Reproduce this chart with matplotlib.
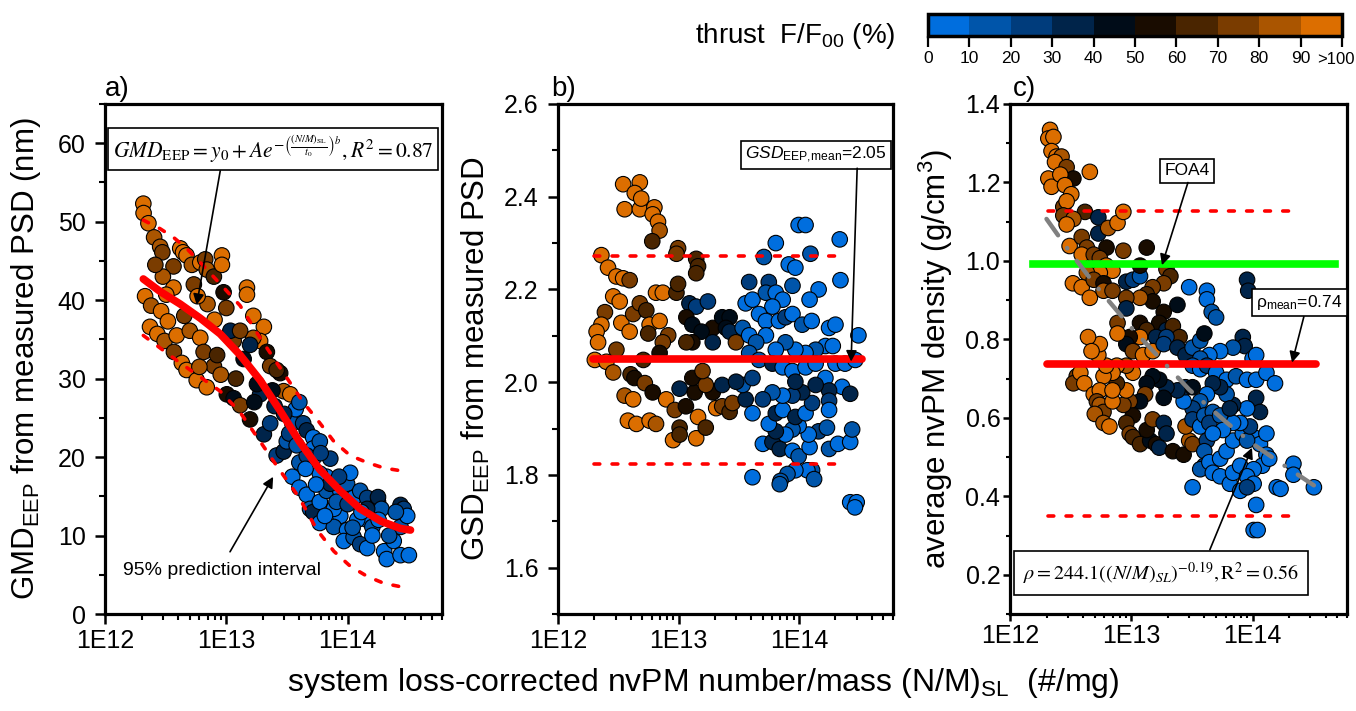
import numpy as np
import matplotlib
matplotlib.use("Agg")
import matplotlib.pyplot as plt
from matplotlib.colors import ListedColormap, BoundaryNorm
from matplotlib.cm import ScalarMappable
from matplotlib.ticker import LogLocator, FixedLocator, FixedFormatter, MultipleLocator

plt.rcParams['font.family'] = ['Liberation Sans', 'DejaVu Sans']
plt.rcParams['mathtext.fontset'] = 'custom'
plt.rcParams['mathtext.rm'] = 'Liberation Sans'
plt.rcParams['mathtext.it'] = 'Liberation Sans:italic'
plt.rcParams['mathtext.bf'] = 'Liberation Sans:bold'

# thrust classes (F/F00 in %) and their colours
thrust_edges = [0, 10, 20, 30, 40, 50, 60, 70, 80, 90, 100]
thrust_labels = ['0', '10', '20', '30', '40', '50', '60', '70', '80', '90', '>100']
thrust_colors = ['#006EDE', '#0055AA', '#003C7C', '#00244A', '#000C18',
                 '#190C00', '#4A2500', '#7A3C00', '#AA5500', '#DC6E00']

# ---- panel a: GMD (nm) vs (N/M)SL, x in units of 1E12 #/mg
gmd_x = [2.07, 2.08, 2.28, 2.54, 2.85, 2.97, 3.67, 4.17, 4.4, 4.7, 5.2, 6.1, 6.7, 6.9, 7.9,
         9.2, 9.2, 9.5, 5.4, 3.67, 3.2, 2.14, 2.4, 2.9, 3.3, 2.35, 2.7, 3.1, 3.9, 3.7,
         4.3, 4.7, 5.7, 6.9, 5.0, 6.1, 6.5, 7.9, 8.4, 11.5, 10.8, 14.8, 14.8, 16.7, 20.4,
         19.0, 16.7, 13.0, 13.9, 15.7, 21.6, 23.0, 27.8, 26.0, 29.7, 33.7, 10.1, 11.5, 13.0, 15.7,
         20.4, 23.0, 19.0, 17.9, 26.0, 29.7, 31.5, 35.0, 37.3, 40.0, 43.0, 46.0, 52.0, 52.0, 59.0,
         72.0, 35.0, 40.0, 46.0, 49.0, 52.0, 59.0, 59.0, 67.0, 77.0, 87.0, 99.0, 105.0, 112.0, 127.0,
         145.0, 178.0, 178.0, 190.0, 145.0, 87.0, 77.0, 99.0, 93.0, 112.0, 127.0, 145.0, 200.0, 210.0, 240.0,
         273.0, 273.0, 290.0, 310.0, 273.0, 320.0, 145.0, 160.0, 120.0, 67.0, 77.0, 81.0, 59.0, 72.0, 52.0,
         40.0, 46.0, 8.0, 7.0, 5.8, 10.0, 12.0, 9.0, 17.0, 25.0, 30.0, 33.0, 24.0, 6.0, 4.5,
         3.0, 2.6, 38.0, 60.0, 85.0, 130.0, 100.0, 160.0, 220.0, 45.0, 55.0, 65.0, 110.0, 180.0, 250.0]
gmd_nm = [52.3, 51.1, 49.8, 48.0, 46.8, 46.1, 44.3, 46.6, 46.1, 45.7, 44.5, 44.8, 45.2, 43.9, 43.0,
          45.7, 44.5, 41.0, 42.0, 41.6, 40.7, 40.5, 39.3, 38.6, 37.3, 36.6, 35.7, 34.8, 35.5, 33.4,
          32.0, 31.1, 29.8, 28.9, 36.1, 35.2, 33.4, 31.6, 33.0, 34.8, 36.1, 41.6, 40.7, 38.0, 36.6,
          34.8, 35.2, 36.1, 32.5, 34.3, 33.4, 31.6, 30.7, 31.1, 28.4, 28.0, 28.0, 27.5, 26.6, 24.8,
          22.9, 24.3, 28.0, 29.3, 20.2, 20.7, 22.0, 24.3, 26.1, 27.0, 24.3, 23.4, 22.5, 21.1, 22.0,
          19.8, 17.5, 16.1, 15.2, 13.4, 13.0, 11.6, 14.3, 15.7, 16.6, 15.7, 16.6, 18.0, 14.8, 15.7,
          14.8, 14.3, 14.9, 13.4, 13.4, 12.5, 11.1, 10.7, 9.3, 9.8, 8.9, 8.4, 8.0, 7.0, 9.3,
          11.1, 13.9, 13.4, 12.5, 7.5, 7.5, 12.0, 11.1, 12.0, 17.5, 13.4, 14.3, 17.9, 16.6, 19.8,
          19.3, 20.2, 37.5, 39.5, 40.5, 39.0, 30.0, 30.5, 27.0, 26.5, 25.5, 23.0, 28.5, 31.5, 38.0,
          43.0, 44.5, 21.5, 20.5, 17.5, 13.0, 14.0, 10.0, 10.0, 18.5, 16.5, 12.5, 11.0, 12.0, 13.0]
gmd_thrust = [95, 95, 95, 85, 85, 75, 75, 95, 95, 95, 85, 95, 75, 85, 65,
              95, 95, 55, 75, 95, 95, 95, 85, 95, 95, 95, 95, 85, 95, 75,
              95, 95, 95, 95, 85, 95, 75, 75, 65, 75, 35, 95, 95, 95, 95,
              95, 85, 75, 45, 35, 55, 75, 55, 65, 85, 95, 55, 45, 75, 55,
              35, 25, 35, 45, 25, 35, 15, 15, 5, 15, 25, 35, 5, 5, 15,
              25, 5, 5, 5, 15, 35, 5, 5, 15, 25, 5, 15, 5, 5, 15,
              25, 35, 35, 15, 35, 5, 15, 5, 5, 15, 25, 5, 5, 5, 5,
              15, 35, 25, 5, 5, 5, 5, 15, 5, 5, 5, 15, 5, 35, 5,
              15, 25, 95, 85, 95, 75, 65, 85, 45, 35, 35, 25, 45, 85, 75,
              85, 75, 15, 25, 25, 5, 25, 5, 15, 5, 5, 5, 15, 5, 15]

# fitted curve and 95 % prediction band
gmd_fit_x = [2.07, 2.85, 4.17, 6.1, 8.9, 13.0, 19.0, 27.8, 40.0, 59.0, 87.0, 127.0, 190.0, 273.0, 330.0]
gmd_fit_y = [42.7, 41.1, 39.5, 37.7, 35.7, 33.0, 29.8, 25.9, 22.0, 18.4, 15.7, 13.4, 11.8, 10.9, 10.7]
gmd_upper_x = [2.07, 2.85, 3.67, 4.7, 6.1, 9.5, 13.0, 19.0, 29.7, 43.0, 56.0, 77.0, 105.0, 145.0, 200.0, 290.0]
gmd_upper_y = [50.2, 49.1, 48.0, 46.6, 44.8, 41.6, 39.3, 35.2, 30.7, 27.0, 24.8, 22.0, 20.2, 19.3, 18.6, 18.2]
gmd_lower_x = [2.07, 2.85, 4.17, 6.1, 8.9, 13.0, 19.0, 26.0, 40.0, 56.0, 77.0, 105.0, 145.0, 200.0, 290.0]
gmd_lower_y = [35.5, 33.9, 32.0, 30.2, 28.4, 25.7, 22.0, 18.9, 14.8, 10.7, 8.0, 6.1, 4.8, 3.9, 3.4]

# ---- panel b: GSD vs (N/M)SL
gsd_x = [3.47, 4.77, 4.33, 3.57, 4.77, 4.9, 6.3, 6.1, 6.75, 6.96, 6.05, 9.9, 9.6, 14.0, 14.5,
         14.0, 2.29, 2.6, 3.05, 3.47, 3.93, 2.87, 3.25, 2.45, 2.29, 2.09, 2.15, 2.02, 2.52, 2.87,
         3.05, 3.35, 3.93, 4.2, 4.77, 5.4, 5.75, 6.5, 7.4, 6.96, 5.6, 8.2, 9.6, 9.9, 7.4,
         6.96, 5.1, 4.0, 4.3, 5.25, 3.57, 4.2, 3.8, 4.47, 5.75, 6.5, 6.1, 7.9, 9.3, 9.0,
         10.2, 10.2, 14.0, 14.5, 16.8, 11.5, 13.6, 10.2, 13.0, 19.2, 20.5, 23.0, 26.5, 28.0, 16.8,
         23.0, 15.8, 12.3, 14.0, 17.5, 11.6, 13.0, 19.2, 15.5, 13.0, 11.6, 19.2, 23.0, 26.5, 24.7,
         26.5, 29.9, 34.0, 38.5, 36.0, 38.5, 41.0, 51.0, 64.0, 56.0, 53.0, 64.0, 82.0, 93.0, 99.0,
         113.0, 124.0, 217.0, 220.0, 145.0, 122.0, 88.0, 73.0, 60.0, 46.5, 53.0, 68.0, 77.0, 88.0, 106.0,
         127.0, 177.0, 200.0, 310.0, 165.0, 190.0, 137.0, 113.0, 93.0, 77.0, 64.0, 53.0, 44.0, 38.5, 46.5,
         60.0, 73.0, 88.0, 113.0, 137.0, 200.0, 240.0, 292.0, 165.0, 227.0, 265.0, 177.0, 177.0, 177.0, 145.0,
         170.0, 177.0, 210.0, 265.0, 275.0, 265.0, 300.0, 290.0, 128.0, 117.0, 133.0, 93.0, 80.0, 70.0, 69.0,
         41.0, 50.0, 60.0, 69.0, 88.0, 99.0, 122.0, 120.0, 99.0, 88.0, 77.0, 64.0, 56.0, 64.0, 73.0,
         93.0, 113.0, 128.0, 106.0, 88.0, 73.0, 60.0, 50.0, 41.0, 36.0, 34.0, 41.0, 30.0, 93.0, 137.0]
gsd = [2.427, 2.431, 2.408, 2.373, 2.373, 2.396, 2.377, 2.362, 2.346, 2.327, 2.304, 2.289, 2.277, 2.266, 2.25,
       2.235, 2.274, 2.247, 2.228, 2.224, 2.22, 2.185, 2.174, 2.151, 2.124, 2.109, 2.086, 2.048, 2.044, 2.021,
       2.07, 2.128, 2.109, 2.147, 2.17, 2.155, 2.124, 2.193, 2.193, 2.132, 2.105, 2.101, 2.193, 2.212, 2.086,
       2.063, 2.048, 2.017, 2.009, 1.998, 1.971, 1.963, 1.917, 1.91, 1.917, 1.91, 1.978, 1.963, 1.94, 1.875,
       1.902, 1.887, 1.879, 1.925, 1.902, 1.948, 1.978, 1.986, 2.009, 1.978, 1.944, 1.948, 1.936, 1.955, 1.994,
       1.994, 2.024, 2.17, 2.163, 2.174, 2.14, 2.124, 2.117, 2.109, 2.086, 2.086, 2.086, 2.14, 2.14, 2.117,
       2.109, 2.086, 2.117, 2.101, 2.17, 2.216, 2.178, 2.27, 2.30, 2.216, 2.193, 2.193, 2.254, 2.247, 2.339,
       2.339, 2.277, 2.308, 2.22, 2.20, 2.178, 2.208, 2.178, 2.163, 2.147, 2.132, 2.132, 2.14, 2.147, 2.124,
       2.132, 2.117, 2.124, 2.101, 2.078, 2.078, 2.07, 2.063, 2.07, 2.086, 2.07, 2.101, 2.086, 2.063, 2.048,
       2.04, 2.032, 2.024, 2.032, 2.04, 2.04, 2.04, 2.048, 2.009, 1.99, 1.975, 1.982, 1.96, 1.94, 1.894,
       1.902, 1.856, 1.867, 1.871, 1.898, 1.741, 1.741, 1.73, 1.81, 1.81, 1.791, 1.81, 1.802, 1.787, 1.78,
       1.795, 1.867, 1.871, 1.856, 1.852, 1.84, 1.86, 1.887, 1.906, 1.898, 1.887, 1.894, 1.91, 1.933, 1.94,
       1.925, 1.933, 1.955, 1.978, 1.971, 1.971, 1.978, 1.963, 1.933, 1.963, 1.994, 2.009, 2.001, 2.001, 1.994]
gsd_thrust = [95, 95, 95, 95, 95, 95, 95, 95, 95, 85, 65, 75, 75, 65, 65,
              65, 95, 95, 95, 95, 75, 95, 95, 75, 95, 95, 95, 95, 95, 85,
              75, 95, 95, 75, 75, 65, 95, 95, 95, 95, 65, 75, 65, 65, 75,
              55, 65, 65, 55, 75, 85, 95, 95, 95, 95, 85, 55, 95, 75, 95,
              65, 65, 95, 95, 65, 55, 55, 35, 55, 55, 95, 75, 65, 75, 75,
              35, 75, 35, 25, 25, 55, 45, 55, 45, 55, 65, 35, 45, 45, 45,
              35, 75, 15, 5, 5, 25, 5, 15, 5, 25, 15, 5, 5, 5, 5,
              5, 15, 5, 5, 5, 5, 15, 5, 5, 5, 5, 5, 25, 5, 15,
              5, 5, 5, 5, 5, 5, 15, 5, 5, 15, 5, 5, 15, 15, 15,
              35, 5, 5, 5, 5, 5, 5, 5, 5, 5, 35, 35, 25, 5, 25,
              15, 15, 5, 5, 15, 5, 5, 5, 15, 5, 15, 5, 15, 15, 15,
              5, 5, 35, 35, 5, 15, 5, 5, 5, 15, 5, 35, 5, 35, 5,
              35, 5, 25, 35, 25, 5, 15, 25, 5, 35, 15, 25, 35, 35, 35]
gsd_mean = 2.05
gsd_band = [1.824, 2.272]

# ---- panel c: effective density (g/cm3) vs (N/M)SL
rho_x = [2.14, 2.07, 2.28, 2.2, 2.42, 2.66, 2.35, 2.93, 3.33, 4.55, 2.07, 2.2, 2.6, 2.84, 3.2,
         2.75, 2.93, 2.75, 4.15, 3.33, 2.93, 5.35, 5.35, 6.45, 7.7, 8.6, 6.25, 8.6, 13.4, 3.1,
         3.9, 4.3, 3.9, 4.9, 5.5, 6.2, 7.0, 5.5, 4.3, 3.3, 3.9, 4.9, 5.9, 4.55, 5.9,
         7.0, 9.1, 10.3, 11.8, 11.8, 19.5, 21.0, 18.5, 15.0, 13.4, 15.0, 11.8, 9.1, 9.1, 7.7,
         11.8, 18.5, 17.0, 24.0, 13.4, 11.8, 19.5, 22.0, 25.0, 16.0, 19.5, 9.7, 9.1, 7.7, 10.3,
         12.5, 15.0, 18.5, 24.0, 28.0, 32.0, 37.0, 40.0, 42.0, 42.0, 46.0, 50.0, 30.0, 90.0, 92.0,
         83.0, 86.0, 69.0, 54.0, 44.0, 37.0, 32.0, 37.0, 42.0, 50.0, 61.0, 73.0, 90.0, 107.0, 100.0,
         107.0, 130.0, 153.0, 107.0, 115.0, 90.0, 69.0, 61.0, 54.0, 47.0, 42.0, 37.0, 32.0, 27.0, 28.0,
         32.0, 24.0, 19.5, 18.5, 17.0, 15.0, 13.4, 13.0, 11.8, 9.7, 10.3, 8.6, 9.1, 7.6, 10.3,
         9.1, 7.6, 7.0, 5.9, 6.2, 5.35, 5.5, 4.4, 4.7, 3.55, 3.33, 3.8, 4.1, 4.9, 5.5,
         5.2, 5.5, 5.9, 5.0, 5.9, 6.6, 7.0, 7.0, 9.1, 9.7, 10.3, 11.8, 14.3, 16.0, 17.0,
         13.4, 15.0, 18.5, 19.5, 22.0, 27.0, 30.0, 28.0, 32.0, 32.0, 37.0, 40.0, 47.0, 44.0, 42.0,
         40.0, 40.0, 37.0, 44.0, 47.0, 54.0, 65.0, 69.0, 79.0, 54.0, 61.0, 69.0, 83.0, 102.0, 115.0,
         130.0, 130.0, 120.0, 102.0, 90.0, 102.0, 79.0, 90.0, 107.0, 102.0, 110.0, 32.0, 158.0, 170.0, 217.0,
         217.0, 320.0, 137.0, 90.0, 95.0, 79.0, 69.0, 54.0, 57.0, 47.0, 65.0]
rho = [1.334, 1.312, 1.316, 1.28, 1.266, 1.266, 1.252, 1.239, 1.21, 1.227, 1.21, 1.189, 1.22, 1.193, 1.17,
       1.138, 1.152, 1.116, 1.125, 1.107, 1.093, 1.111, 1.07, 1.084, 1.097, 1.125, 1.034, 1.026, 1.034, 1.038,
       1.061, 1.034, 1.016, 1.016, 1.007, 0.988, 0.975, 0.97, 0.97, 0.943, 0.933, 0.952, 0.943, 0.906, 0.924,
       0.924, 0.947, 0.952, 0.961, 0.988, 0.979, 0.961, 0.943, 0.933, 0.915, 0.897, 0.906, 0.906, 0.879, 0.842,
       0.842, 0.87, 0.842, 0.888, 0.824, 0.806, 0.824, 0.834, 0.806, 0.806, 0.806, 0.806, 0.788, 0.815, 0.77,
       0.76, 0.77, 0.788, 0.779, 0.76, 0.779, 0.797, 0.815, 0.924, 0.902, 0.87, 0.856, 0.933, 0.952, 0.924,
       0.806, 0.783, 0.779, 0.77, 0.76, 0.751, 0.733, 0.724, 0.733, 0.715, 0.697, 0.706, 0.697, 0.697, 0.751,
       0.76, 0.715, 0.688, 0.651, 0.615, 0.624, 0.633, 0.66, 0.678, 0.688, 0.66, 0.642, 0.624, 0.642, 0.678,
       0.678, 0.67, 0.678, 0.651, 0.697, 0.706, 0.688, 0.66, 0.642, 0.642, 0.606, 0.633, 0.67, 0.688, 0.715,
       0.733, 0.733, 0.715, 0.706, 0.733, 0.76, 0.788, 0.806, 0.77, 0.706, 0.688, 0.715, 0.688, 0.66, 0.67,
       0.642, 0.633, 0.615, 0.61, 0.587, 0.578, 0.642, 0.67, 0.587, 0.56, 0.551, 0.533, 0.542, 0.533, 0.524,
       0.569, 0.596, 0.587, 0.56, 0.515, 0.506, 0.542, 0.578, 0.533, 0.596, 0.578, 0.606, 0.615, 0.587, 0.542,
       0.515, 0.478, 0.469, 0.487, 0.46, 0.451, 0.432, 0.46, 0.478, 0.496, 0.515, 0.542, 0.56, 0.551, 0.533,
       0.56, 0.506, 0.478, 0.469, 0.451, 0.432, 0.414, 0.423, 0.378, 0.314, 0.314, 0.423, 0.423, 0.419, 0.483,
       0.455, 0.423, 0.496, 0.542, 0.578, 0.587, 0.587, 0.606, 0.569, 0.56, 0.624]
rho_thrust = [95, 95, 95, 95, 95, 85, 95, 75, 55, 95, 95, 95, 95, 95, 95,
              75, 95, 75, 65, 85, 95, 35, 35, 85, 95, 95, 55, 75, 55, 95,
              75, 75, 95, 75, 75, 95, 95, 95, 85, 95, 95, 75, 55, 95, 85,
              75, 35, 25, 15, 55, 75, 65, 75, 75, 65, 55, 85, 75, 35, 75,
              55, 55, 55, 45, 65, 95, 35, 65, 65, 35, 25, 55, 45, 95, 75,
              95, 95, 25, 35, 35, 15, 15, 45, 5, 5, 15, 15, 5, 35, 35,
              35, 35, 15, 5, 5, 15, 15, 5, 25, 5, 5, 15, 5, 5, 5,
              5, 5, 5, 35, 35, 5, 35, 15, 35, 35, 5, 15, 25, 5, 35,
              45, 35, 35, 45, 45, 45, 45, 75, 45, 75, 55, 75, 95, 65, 95,
              85, 95, 95, 95, 95, 95, 95, 95, 95, 75, 75, 95, 95, 95, 95,
              75, 85, 75, 85, 85, 95, 95, 95, 65, 75, 65, 65, 45, 55, 35,
              55, 75, 35, 35, 55, 55, 85, 85, 75, 25, 5, 15, 15, 25, 25,
              15, 25, 15, 5, 5, 5, 5, 5, 5, 5, 5, 5, 5, 5, 5,
              5, 5, 5, 5, 5, 5, 5, 25, 5, 5, 5, 5, 5, 5, 5,
              5, 5, 5, 15, 25, 5, 5, 15, 5, 5, 35]
rho_fit_x = [2.0, 3.0, 5.0, 10.0, 20.0, 30.0, 60.0, 100.0, 200.0, 320.0]
rho_fit_y = [1.107, 1.03, 0.94, 0.83, 0.73, 0.672, 0.59, 0.534, 0.47, 0.428]
rho_mean = 0.738
rho_band = [0.349, 1.128]
rho_foa4 = 0.992

W, H = 1356, 711
TOP, BOTTOM = 104, 614
fig = plt.figure(figsize=(W / 100, H / 100), dpi=100)
cmap = ListedColormap(thrust_colors)
norm = BoundaryNorm(thrust_edges, cmap.N)
E12 = 1e12


def make_axes(x0, y0, x1, y1):
    return fig.add_axes([x0 / W, 1 - y1 / H, (x1 - x0) / W, (y1 - y0) / H])


def style(ax, ylim, major, minor, tick_len=7, xpad=4, ypad=7):
    ax.set_xscale('log')
    ax.set_xlim(1e12, 6e14)
    ax.set_ylim(*ylim)
    ax.xaxis.set_major_locator(FixedLocator([1e12, 1e13, 1e14]))
    ax.xaxis.set_major_formatter(FixedFormatter(['1E12', '1E13', '1E14']))
    ax.xaxis.set_minor_locator(LogLocator(base=10, subs=np.arange(2, 10), numticks=20))
    ax.xaxis.set_minor_formatter(FixedFormatter([]))
    ax.yaxis.set_major_locator(MultipleLocator(major))
    ax.yaxis.set_minor_locator(MultipleLocator(minor))
    for s in ax.spines.values():
        s.set_linewidth(2.3)
    ax.tick_params(which='major', direction='out', length=tick_len, width=1.8, labelsize=18)
    ax.tick_params(which='minor', direction='out', length=tick_len * 0.6, width=1.5)
    ax.tick_params(axis='x', which='major', pad=xpad)
    ax.tick_params(axis='y', which='major', pad=ypad)


def dots(ax, x, y, t):
    ax.scatter(np.array(x) * E12, y, c=t, cmap=cmap, norm=norm, s=125,
               edgecolors='black', linewidths=0.8, zorder=2)


def dashed(ax, x, y):
    ax.plot(np.array(x) * E12, y, color='red', lw=2.6, ls=(0, (1.6, 3.4)),
            dash_capstyle='round', zorder=4)


def arrow(ax, target, start):
    ax.annotate('', xy=target, xycoords='axes fraction', xytext=start,
                textcoords='axes fraction', zorder=6,
                arrowprops=dict(arrowstyle='-|>', color='black', lw=1.2,
                                mutation_scale=16, shrinkA=0, shrinkB=0))


def boxed(ax, txt, xy, target, start, size, pad=0.25, **kw):
    ax.text(xy[0], xy[1], txt, transform=ax.transAxes, ha='center', va='center',
            fontsize=size, zorder=6,
            bbox=dict(boxstyle='square,pad=%g' % pad, fc='white', ec='black', lw=1.2), **kw)
    arrow(ax, target, start)


# panel a
ax1 = make_axes(105, TOP, 442, BOTTOM)
style(ax1, (0, 65), 10, 5)
dots(ax1, gmd_x, gmd_nm, gmd_thrust)
ax1.plot(np.array(gmd_fit_x) * E12, gmd_fit_y, color='red', lw=5.5, solid_capstyle='round', zorder=3)
dashed(ax1, gmd_upper_x, gmd_upper_y)
dashed(ax1, gmd_lower_x, gmd_lower_y)
ax1.set_ylabel(r'GMD$_{\mathrm{EEP}}$ from measured PSD (nm)', fontsize=22.5)
ax1.yaxis.set_label_coords(-0.184, 0.5)
boxed(ax1, r'$GMD_{\mathrm{EEP}}=y_0+Ae^{-\left(\frac{(N/M)_{\mathrm{SL}}}{t_0}\right)^b}, R^2=0.87$',
      (0.498, 0.912), (0.272, 0.606), (0.342, 0.869), 15.5, pad=0.22, math_fontfamily='stix')
ax1.text(0.347, 0.086, '95% prediction interval', transform=ax1.transAxes,
         ha='center', va='center', fontsize=14)
arrow(ax1, (0.499, 0.269), (0.371, 0.122))
ax1.text(0.0, 1.004, 'a)', transform=ax1.transAxes, fontsize=20, va='bottom', ha='left')

# panel b
ax2 = make_axes(558, TOP, 893, BOTTOM)
style(ax2, (1.5, 2.6), 0.2, 0.1)
dots(ax2, gsd_x, gsd, gsd_thrust)
ax2.plot([1.95e12, 3.3e14], [gsd_mean, gsd_mean], color='red', lw=5.5,
         solid_capstyle='round', zorder=3)
for yb in gsd_band:
    dashed(ax2, [2.0, 245.0], [yb, yb])
ax2.set_ylabel(r'GSD$_{\mathrm{EEP}}$ from measured PSD', fontsize=22.5)
ax2.yaxis.set_label_coords(-0.197, 0.5)
boxed(ax2, r'$\mathit{GSD}_{\mathrm{EEP{,}mean}}$=2.05', (0.769, 0.9),
      (0.875, 0.495), (0.893, 0.874), 12.5)
ax2.text(-0.02, 1.004, 'b)', transform=ax2.transAxes, fontsize=20, va='bottom', ha='left')

# panel c
ax3 = make_axes(1010, TOP, 1347, BOTTOM)
style(ax3, (0.1, 1.4), 0.2, 0.1, tick_len=5, xpad=2, ypad=2)
dots(ax3, rho_x, rho, rho_thrust)
ax3.plot([1.56e12, 4.8e14], [rho_foa4, rho_foa4], color='#00FF00', lw=5.5, zorder=3)
ax3.plot([2.0e12, 3.3e14], [rho_mean, rho_mean], color='red', lw=5.5,
         solid_capstyle='round', zorder=3)
for yb in rho_band:
    dashed(ax3, [2.07, 240.0], [yb, yb])
ax3.plot(np.array(rho_fit_x) * E12, rho_fit_y, color='#808080', lw=3.2,
         ls=(0, (4.5, 3.5, 0.1, 3.5)), dash_capstyle='round', zorder=4)
ax3.set_ylabel(r'average nvPM density (g/cm$^3$)', fontsize=22.5)
ax3.yaxis.set_label_coords(-0.163, 0.5)
boxed(ax3, 'FOA4', (0.525, 0.869), (0.451, 0.684), (0.528, 0.846), 12.5)
boxed(ax3, r'$\mathregular{\rho_{mean}}$=0.74', (0.859, 0.611), (0.837, 0.493), (0.872, 0.583), 12.5)
boxed(ax3, r'$\rho=244.1((N/M)_{SL})^{-0.19}, \mathrm{R}^2=0.56$', (0.447, 0.081),
      (0.718, 0.326), (0.593, 0.126), 14.5, pad=0.45, math_fontfamily='stix')
ax3.text(0.01, 1.004, 'c)', transform=ax3.transAxes, fontsize=20, va='bottom', ha='left')

fig.text(703 / W, 1 - 683 / H, r'system loss-corrected nvPM number/mass (N/M)$_{\mathrm{SL}}$  (#/mg)',
         ha='center', va='center', fontsize=23)

# colour bar for thrust
cax = make_axes(928, 14, 1342, 36)
cb = fig.colorbar(ScalarMappable(norm=norm, cmap=cmap), cax=cax, orientation='horizontal',
                  ticks=thrust_edges)
cb.ax.set_xticklabels(thrust_labels[:-1] + [''])
cb.outline.set_linewidth(2.5)
cb.ax.tick_params(length=8, width=1.6, labelsize=12.5, pad=3)
# last label is pulled in a little so it stays inside the figure
fig.text(1336 / W, 1 - 59 / H, thrust_labels[-1], ha='center', va='center', fontsize=12)
fig.text(895 / W, 1 - 36 / H, r'thrust  F/F$_{\mathrm{00}}$ (%)', ha='right', va='center', fontsize=20)

fig.savefig('out.png', dpi=100)
